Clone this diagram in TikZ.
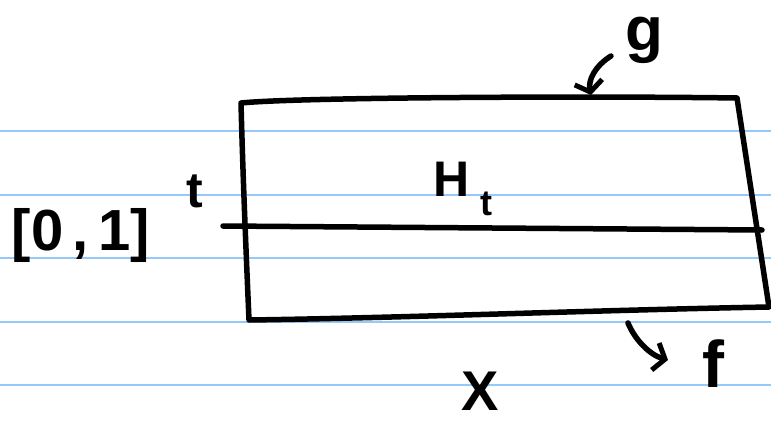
\documentclass[tikz,border=0pt]{standalone}
\usepackage{fontspec}
\setmainfont{Liberation Sans}
\usetikzlibrary{arrows.meta}
\begin{document}
\begin{tikzpicture}[x=1pt,y=-1pt,
  rule/.style={draw={rgb,255:red,150;green,200;blue,250},line width=2pt},
  ink/.style={draw=black,line width=5.5pt,line cap=round,line join=round},
  lab/.style={inner sep=0pt,font=\fontsize{50}{54}\selectfont\bfseries},
  curvearrow/.style={ink,-{Straight Barb[length=10pt,width=28pt,line width=5pt]}}]
\useasboundingbox (0,0) rectangle (771,423);
% ruled paper lines
\foreach \yy in {131,194.5,258,321.5,385} \draw[rule] (0,\yy) -- (771,\yy);
% rectangle
\coordinate (tl) at (241,103);
\coordinate (tr) at (737,98);
\coordinate (br) at (769,307);
\coordinate (bl) at (249,320);
\draw[ink] (tl) .. controls (300,97) and (600,96) .. (tr) -- (br)
  .. controls (600,310) and (400,318) .. (bl) .. controls (246,250) and (243,180) .. cycle;
% middle line
\coordinate (ml) at (223,226);
\coordinate (mr) at (762,230);
\draw[ink] (ml) -- (mr);
% labels
\node[lab] (t) at (195,191) {t};
\node[lab,font=\fontsize{58}{62}\selectfont\bfseries] (int) at (81,236) {[0\,,\,1]};
\node[lab] (H) at (452,179) {H};
\node[lab,font=\fontsize{36}{40}\selectfont\bfseries] (sub) at (486,204) {t};
\node[lab,font=\fontsize{56}{60}\selectfont\bfseries] (X) at (480,391) {X};
\node[lab,font=\fontsize{62}{66}\selectfont\bfseries] (g) at (644,40) {g};
\node[lab,font=\fontsize{66}{70}\selectfont\bfseries] (f) at (713,364) {f};
% arrows
\coordinate (gs) at (611,56);
\coordinate (ge) at (591,95);
\draw[curvearrow] (gs) .. controls (595,66) and (588,80) .. (ge);
\coordinate (fs) at (628,323);
\coordinate (fe) at (668,360);
\draw[curvearrow] (fs) .. controls (635,340) and (650,355) .. (fe);
\end{tikzpicture}
\end{document}
